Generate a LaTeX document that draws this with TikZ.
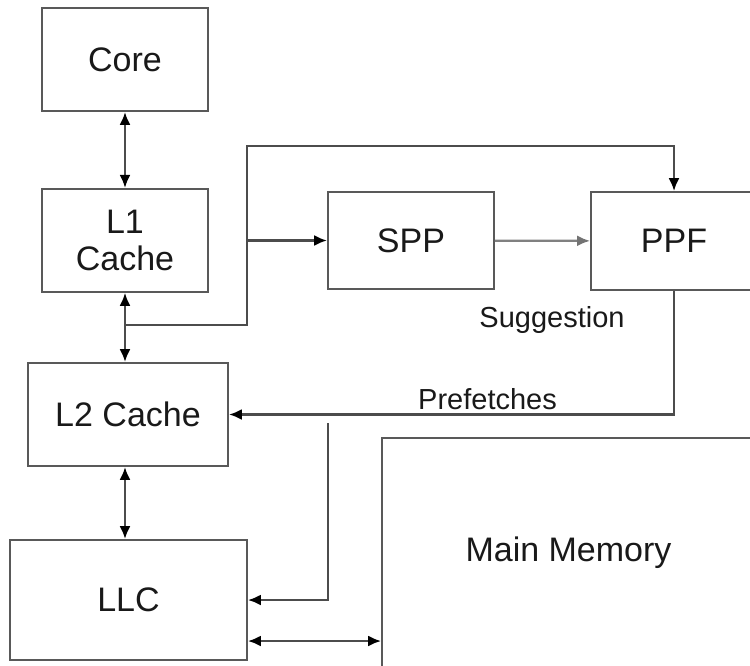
\documentclass[tikz,border=0pt]{standalone}
\usepackage{fontspec}
\setmainfont{Liberation Sans}
\tikzstyle{block}=[rectangle,draw=black!65,line width=1.9pt,fill=white,
inner sep=0pt,text=black!90,font=\fontsize{34}{37}\selectfont,align=center]
\tikzstyle{wire}=[draw=black!70,line width=2.2pt]
\tikzstyle{note}=[font=\fontsize{29}{32}\selectfont,text=black!90,anchor=base,inner sep=0pt]
\usetikzlibrary{arrows.meta,positioning}

\begin{document}
\begin{tikzpicture}[x=1pt,y=-1pt,>={Latex[length=13pt,width=11pt,black]}]
            \useasboundingbox (0,0) rectangle (750,665);
            \clip (0,0) rectangle (750,665);

            % CACHE PART

            \node[block,minimum width=166pt,minimum height=103pt] (core) at (125,59.5) {Core};
            \node[block,minimum width=166pt,minimum height=103pt,below=76pt of core] (l1) {L1\\Cache};
            \node[block,minimum width=200pt,minimum height=103pt] (l2) at (128,414.5) {L2 Cache};
            \node[block,minimum width=237pt,minimum height=120pt] (llc) at (128.5,600) {LLC};

            % PREFETCHER PART

            \node[block,minimum width=166pt,minimum height=97pt] (spp) at (411,240.5) {SPP};
            \node[block,minimum width=166pt,minimum height=98pt] (ppf) at (674,241) {PPF};
            \node[block,minimum width=373pt,minimum height=230pt] (mem) at (568.5,553) {Main Memory};

            \node[note] (sugg) at (552,327) {Suggestion};
            \node[note] (pref) at (487.5,409) {Prefetches};

            \coordinate (tap) at (125,325);
            \coordinate (bend) at (247,325);
            \coordinate (top) at (247,146);
            \coordinate (split) at (247,240.5);
            \coordinate (drop) at (328,423);
            \coordinate (low) at (0,641);

            % Connections of Caches

            \path[wire,<->] (core) edge (l1);
            \draw[wire,<->] (l1.south) -- (l1.south |- l2.north);
            \draw[wire,<->] (l2.south -| l1.south) -- (llc.north -| l1.south);
            \draw[wire,<->] (llc.east |- low) -- (mem.west |- low);

            % Connections of Prefetchers

            \draw[wire,->] (tap) -- (bend) -- (top) -| (ppf.north);
            \draw[wire,->] (split) -- (spp.west);
            \draw[wire,draw=black!50,-{Latex[length=13pt,width=11pt,black!55]}] (spp) -- (ppf);
            \draw[wire,->] (ppf.south) |- (l2.east);
            \draw[wire,->] (drop) |- (llc.east);

        \end{tikzpicture}
\end{document}
